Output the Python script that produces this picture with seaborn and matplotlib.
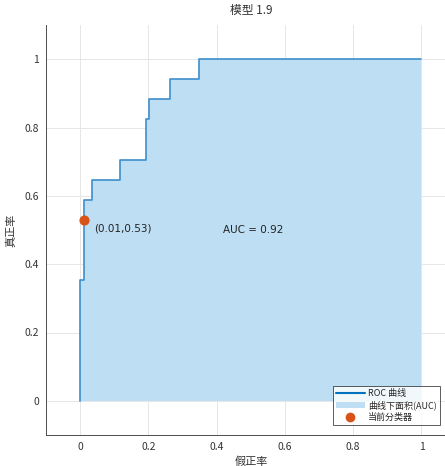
import numpy as np
import pandas as pd
import seaborn as sns
import matplotlib.pyplot as plt
from matplotlib.patches import Patch
from matplotlib.lines import Line2D

# ROC vertices
fpr = [0.0, 0.0, 0.01, 0.01, 0.034, 0.034, 0.118, 0.118, 0.192, 0.192,
       0.203, 0.203, 0.264, 0.264, 0.347, 0.347, 1.0]
tpr = [0.0, 0.353, 0.353, 0.588, 0.588, 0.647, 0.647, 0.706, 0.706, 0.824,
       0.824, 0.882, 0.882, 0.941, 0.941, 1.0, 1.0]
current_point = (0.01, 0.53)
auc_value = 0.92
title = "模型 1.9"
tick_values = [0, 0.2, 0.4, 0.6, 0.8, 1]
tick_labels = ["0", "0.2", "0.4", "0.6", "0.8", "1"]

sns.set_style("white")
plt.rcParams["font.family"] = ["Noto Sans CJK SC", "DejaVu Sans"]

line_color = "#3d8fcc"
fill_color = "#bedff3"
point_color = "#d95319"
axis_color = "#4d4d4d"

fig = plt.figure(figsize=(4.45, 4.66), dpi=100)
ax = fig.add_axes([46 / 445, 31 / 466, 409.6 / 445, 410 / 466])

roc_df = pd.DataFrame({"fpr": fpr, "tpr": tpr})
ax.fill_between(roc_df["fpr"], roc_df["tpr"], 0, color=fill_color, linewidth=0, zorder=1)
sns.lineplot(data=roc_df, x="fpr", y="tpr", sort=False, estimator=None,
             color=line_color, linewidth=1.2, ax=ax, zorder=2)
ax.scatter([current_point[0]], [current_point[1]], s=40, color=point_color, zorder=3)

ax.text(current_point[0] + 0.03, current_point[1] - 0.025,
        f"({current_point[0]:.2f},{current_point[1]:.2f})", fontsize=7.5,
        color="#222222", va="center", ha="left", family="DejaVu Sans")
ax.text(0.42, 0.5, f"AUC = {auc_value:.2f}", fontsize=7.5, color="#222222",
        va="center", ha="left", family="DejaVu Sans")

ax.set_xlim(-0.1, 1.1)
ax.set_ylim(-0.1, 1.1)
ax.set_xticks(tick_values)
ax.set_xticklabels(tick_labels)
ax.set_yticks(tick_values)
ax.set_yticklabels(tick_labels)
ax.tick_params(axis="both", direction="in", length=3, labelsize=7.5,
               colors=axis_color, labelcolor="#333333", pad=5)
ax.grid(True, color="#e6e6e6", linewidth=0.7)
ax.set_axisbelow(True)
for side in ["top", "right"]:
    ax.spines[side].set_visible(False)
for side in ["left", "bottom"]:
    ax.spines[side].set_color(axis_color)
    ax.spines[side].set_linewidth(0.7)

ax.set_title(title, fontsize=8.5, color="#333333", pad=8)
ax.set_xlabel("假正率", fontsize=8, color="#333333", labelpad=3)
ax.set_ylabel("真正率", fontsize=8, color="#333333", labelpad=6)

handles = [
    Line2D([0], [0], color="#0072bd", linewidth=1.5),
    Patch(facecolor=fill_color, edgecolor="none"),
    Line2D([0], [0], marker="o", color="none", markerfacecolor=point_color,
           markeredgecolor=point_color, markersize=6),
]
labels = ["ROC 曲线", "曲线下面积(AUC)", "当前分类器"]
leg = ax.legend(handles, labels, loc="lower left", bbox_to_anchor=(333 / 445, 41 / 466),
                bbox_transform=fig.transFigure, fontsize=6.5, frameon=True, fancybox=False,
                borderpad=0.3, labelspacing=0.3, handlelength=3.2, handletextpad=0.4,
                borderaxespad=0)
leg.get_frame().set_edgecolor("#333333")
leg.get_frame().set_linewidth(0.7)

fig.savefig("out.png", dpi=100)
plt.close(fig)
